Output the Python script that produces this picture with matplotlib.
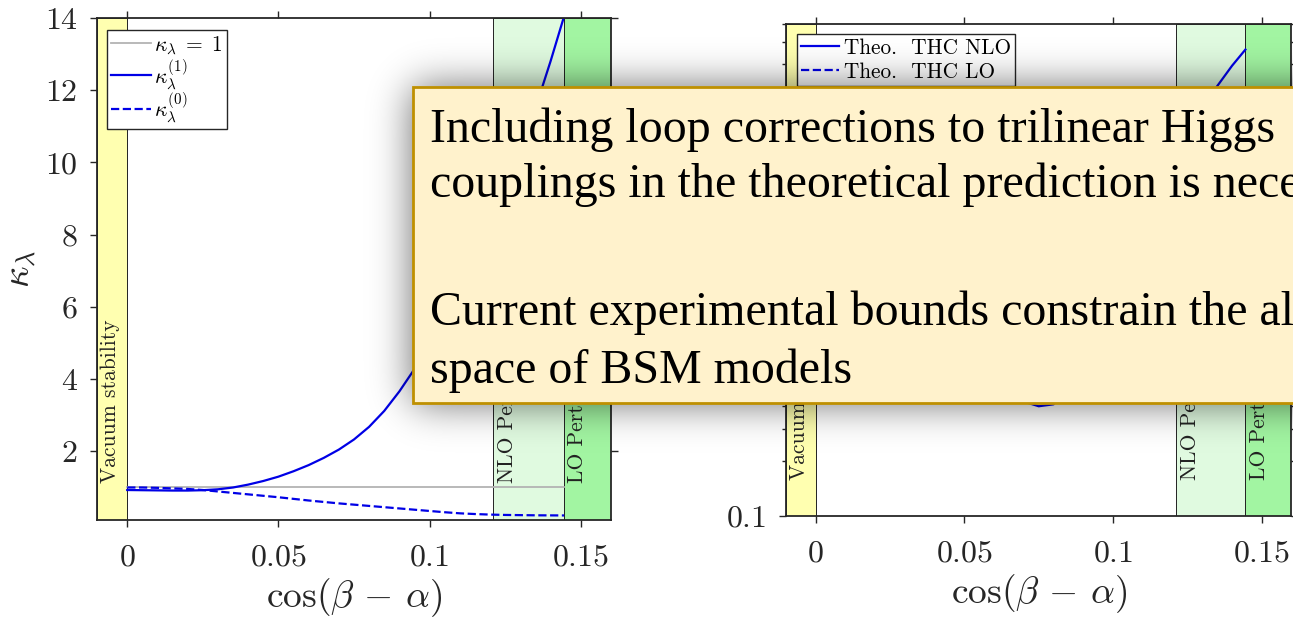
import math
import numpy as np
import matplotlib
matplotlib.use("Agg")
import matplotlib.pyplot as plt
import matplotlib.transforms as mtransforms
from matplotlib.patches import Rectangle
from matplotlib.ticker import FixedLocator, FuncFormatter, LogLocator, NullFormatter

plt.rcParams['mathtext.fontset'] = 'cm'
plt.rcParams['font.family'] = ['cmr10', 'DejaVu Serif']
plt.rcParams['axes.unicode_minus'] = False

# ---- data ----
x_grid = [0, 0.005, 0.01, 0.015, 0.02, 0.025, 0.03, 0.035, 0.04, 0.045,
          0.05, 0.055, 0.06, 0.065, 0.07, 0.075, 0.08, 0.085, 0.09, 0.095,
          0.10, 0.105, 0.11, 0.115, 0.12, 0.125, 0.13, 0.135, 0.14, 0.1445]
kappa_nlo = [0.93, 0.925, 0.92, 0.915, 0.915, 0.925, 0.95, 1.0, 1.08, 1.18,
             1.30, 1.45, 1.62, 1.82, 2.05, 2.33, 2.68, 3.12, 3.66, 4.28,
             4.90, 5.60, 6.40, 7.28, 8.20, 9.20, 10.30, 11.50, 12.80, 14.05]
kappa_lo = [1.0, 1.0, 0.99, 0.975, 0.96, 0.93, 0.89, 0.85, 0.81, 0.77,
            0.73, 0.685, 0.64, 0.60, 0.56, 0.525, 0.49, 0.455, 0.42, 0.385,
            0.35, 0.315, 0.285, 0.265, 0.25, 0.24, 0.235, 0.23, 0.228, 0.226]
kappa_sm = 1.0

# right panel (log scale), mostly hidden behind the text box
ratio_nlo = [1.06, 1.067, 1.071, 1.076, 1.076, 1.067, 1.044, 1.0, 0.933, 0.854,
             0.768, 0.672, 0.579, 0.494, 0.424, 0.40, 0.41, 0.516, 0.853, 1.44,
             2.15, 3.3, 5.0, 7.0, 9.6, 13.0, 17.5, 22.8, 29.5, 36.2]
ratio_lo = [1.0, 1.0, 1.009, 1.02, 1.035, 1.06, 1.099, 1.14, 1.175, 1.215,
            1.256, 1.30, 1.351, 1.395, 1.44, 1.48, 1.52, 1.56, 1.604, 1.645,
            1.69, 1.73, 1.774, 1.80, 1.82, 1.83, 1.839, 1.845, 1.848, 1.85]

regions = [(-0.01, 0.0, '#FFFFB0', 'Vacuum stability', -0.0055),
           (0.121, 0.1445, '#E0FAE0', 'NLO Perturbativity', 0.1258),
           (0.1445, 0.16, '#A2F5A2', 'LO Perturbativity', 0.1490)]

x_ticks = [0, 0.05, 0.1, 0.15]
x_label = r'$\cos(\beta\,-\,\alpha)$'

box_lines = [(142, "Including loop corrections to trilinear Higgs"),
             (197, "couplings in the theoretical prediction is necessary"),
             (325, "Current experimental bounds constrain the allowed"),
             (383, "space of BSM models")]

W, H = 1293, 618
INK = '#262626'

fig = plt.figure(figsize=(W / 100, H / 100), dpi=100)
ax1 = fig.add_axes([97 / W, 1 - 520 / H, (611 - 97) / W, (520 - 18) / H])
ax2 = fig.add_axes([786 / W, 1 - 516 / H, (1291.5 - 786) / W, (516 - 24) / H])

tick_fmt = FuncFormatter(lambda v, p: '$%g$' % v)


def style(ax):
    ax.set_xlim(-0.01, 0.16)
    ax.xaxis.set_major_locator(FixedLocator(x_ticks))
    ax.xaxis.set_major_formatter(tick_fmt)
    ax.tick_params(which='both', direction='out', top=True, right=True,
                   colors=INK, labelsize=23, width=1.0)
    ax.tick_params(axis='x', pad=12)
    ax.tick_params(axis='y', pad=9)
    ax.tick_params(which='major', length=5)
    ax.tick_params(which='minor', length=3)
    for s in ax.spines.values():
        s.set_linewidth(1.3)
        s.set_color(INK)
    ax.set_xlabel(x_label, fontsize=27, color=INK, labelpad=4)
    trans = mtransforms.blended_transform_factory(ax.transData, ax.transAxes)
    for x0, x1, col, lab, xt in regions:
        ax.axvspan(x0, x1, facecolor=col, edgecolor='#222222', lw=0.7, zorder=0)
        ax.text(xt, 0.073, lab, rotation=90, transform=trans, ha='center',
                va='bottom', fontsize=15.5, color='#222222', family='cmr10')


# left panel: kappa_lambda
style(ax1)
ax1.set_ylim(0.1, 14)
ax1.yaxis.set_major_locator(FixedLocator([2, 4, 6, 8, 10, 12, 14]))
ax1.yaxis.set_major_formatter(tick_fmt)
ax1.plot([0, 0.1445], [kappa_sm, kappa_sm], color='#b3b3b3', lw=1.3,
         label=r'$\kappa_\lambda\;=\;1$')
ax1.plot(x_grid, kappa_nlo, color='#0000E6', lw=1.6, label=r'$\kappa_\lambda^{(1)}$')
ax1.plot(x_grid, kappa_lo, color='#0000E6', lw=1.6, ls='--', label=r'$\kappa_\lambda^{(0)}$')
ax1.set_ylabel(r'$\kappa_\lambda$', fontsize=27, color=INK, labelpad=4)
leg1 = ax1.legend(loc='upper left', bbox_to_anchor=((107 - 97) / 514, 1 - (30 - 18) / 502),
                  borderaxespad=0, fontsize=15.5, handlelength=1.85, handletextpad=0.15,
                  labelspacing=0.0, borderpad=0.2, fancybox=False, framealpha=1,
                  edgecolor=INK)
leg1.get_frame().set_linewidth(1.0)

# right panel: log scale
style(ax2)
ax2.set_yscale('log')
ax2.set_ylim(0.1, 50)
ax2.yaxis.set_major_locator(FixedLocator([0.1]))
ax2.yaxis.set_major_formatter(tick_fmt)
ax2.yaxis.set_minor_locator(LogLocator(base=10, subs=np.arange(1, 10)))
ax2.yaxis.set_minor_formatter(NullFormatter())
ax2.plot(x_grid, ratio_nlo, color='#0000E6', lw=1.6, label='Theo.  THC NLO')
ax2.plot(x_grid, ratio_lo, color='#0000E6', lw=1.6, ls='--', label='Theo.  THC LO')
leg2 = ax2.legend(loc='upper left', bbox_to_anchor=((797 - 786) / 505.5, 1 - (34 - 24) / 492),
                  borderaxespad=0, prop={'family': 'cmr10', 'size': 15.3},
                  handlelength=1.8, handletextpad=0.2, labelspacing=0.2,
                  borderpad=0.2, fancybox=False, framealpha=1, edgecolor=INK)
leg2.get_frame().set_linewidth(1.0)

# ---- overlay text box with soft shadow ----
ov = fig.add_axes([0, 0, 1, 1], zorder=10)
ov.set_xlim(0, W)
ov.set_ylim(H, 0)
ov.axis('off')

bx0, by0, bx1, by1 = 413, 87, 1400, 403
erf = np.vectorize(math.erf)
sig = 20 * math.sqrt(2)
xs = np.arange(W) + 0.5
ys = np.arange(H) + 0.5
fx = 0.5 * (erf((xs - bx0) / sig) - erf((xs - bx1) / sig))
fy = 0.5 * (erf((ys - by0) / sig) - erf((ys - by1) / sig))
shadow = np.zeros((H, W, 4))
shadow[..., 3] = 0.6 * np.outer(fy, fx)
ov.imshow(shadow, extent=(0, W, H, 0), interpolation='bilinear', aspect='auto', zorder=1)

ov.add_patch(Rectangle((bx0, by0), bx1 - bx0, by1 - by0, facecolor='#FFF2CC',
                       edgecolor='#BF9000', lw=2.0, zorder=2))
for yb, line in box_lines:
    ov.text(430, yb, line, fontsize=34.5, family='Liberation Serif', color='black',
            va='baseline', ha='left', zorder=3)

fig.savefig('out.png', dpi=100)
